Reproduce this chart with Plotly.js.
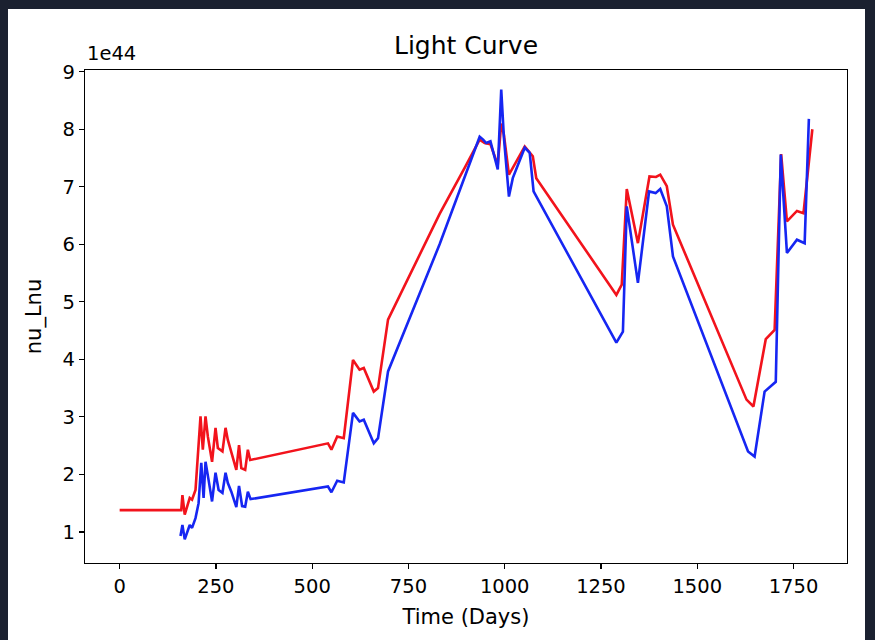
<!DOCTYPE html>
<html>
<head>
<meta charset="utf-8">
<script src="https://cdn.plot.ly/plotly-3.0.1.min.js"></script>
<style>
  html, body { margin: 0; padding: 0; background: #1b2130; width: 875px; height: 640px; overflow: hidden; }
  #chart { position: absolute; left: 8px; top: 9px; width: 857px; height: 631px; background: #ffffff; }
</style>
</head>
<body>
<div id="chart"></div>
<script>
// Time in days, luminance nu_Lnu in units of 1e44
const redDays = [0, 160, 163, 169, 182, 188, 197, 210, 216, 223, 229, 240, 249, 255, 267, 275, 281, 290, 303, 310, 316, 326, 333, 339,
  541, 550, 565, 582, 606, 623, 634, 660, 671, 697, 753, 831, 896, 935, 948, 963, 982, 991, 998, 1011, 1052, 1073, 1082,
  1290, 1304, 1317, 1346, 1376, 1393, 1404, 1421, 1437, 1628, 1646, 1678, 1701, 1718, 1733, 1759, 1776, 1799];
const redLum = [1.38, 1.38, 1.64, 1.30, 1.59, 1.56, 1.73, 3.01, 2.43, 3.01, 2.66, 2.22, 2.81, 2.46, 2.40, 2.81, 2.60, 2.40, 2.08, 2.51, 2.11, 2.08, 2.43, 2.25,
  2.54, 2.43, 2.66, 2.63, 3.99, 3.82, 3.85, 3.44, 3.50, 4.69, 5.47, 6.53, 7.33, 7.82, 7.76, 7.74, 7.38, 8.10, 7.90, 7.21, 7.70, 7.53, 7.15,
  5.12, 5.30, 6.96, 6.02, 7.18, 7.17, 7.21, 7.01, 6.34, 3.30, 3.18, 4.35, 4.51, 7.57, 6.40, 6.58, 6.54, 8.00];

const blueDays = [158, 163, 169, 182, 188, 197, 205, 212, 218, 223, 231, 240, 249, 257, 267, 275, 281, 290, 303, 310, 318, 326, 333, 340,
  541, 550, 565, 582, 606, 623, 634, 660, 671, 697, 831, 935, 944, 952, 963, 982, 991, 998, 1011, 1021, 1052, 1065, 1075,
  1290, 1307, 1317, 1346, 1375, 1392, 1404, 1421, 1437, 1632, 1649, 1675, 1704, 1717, 1733, 1759, 1779, 1790];
const blueLum = [0.93, 1.12, 0.87, 1.12, 1.07, 1.24, 1.50, 2.20, 1.59, 2.22, 1.90, 1.53, 2.03, 1.73, 1.68, 2.03, 1.85, 1.70, 1.43, 1.80, 1.45, 1.44, 1.70, 1.57,
  1.79, 1.69, 1.89, 1.86, 3.07, 2.92, 2.95, 2.54, 2.63, 3.79, 6.00, 7.87, 7.82, 7.76, 7.79, 7.30, 8.69, 7.85, 6.83, 7.15, 7.68, 7.59, 6.92,
  4.29, 4.48, 6.66, 5.33, 6.92, 6.89, 6.96, 6.66, 5.79, 2.40, 2.31, 3.44, 3.61, 7.56, 5.85, 6.08, 6.02, 8.18];

const xTicks = [0, 250, 500, 750, 1000, 1250, 1500, 1750];
const yTicks = [1, 2, 3, 4, 5, 6, 7, 8, 9];

const FONT = 'DejaVu Sans, sans-serif';

const traces = [
  { x: redDays, y: redLum, type: 'scatter', mode: 'lines', line: { color: '#f2131c', width: 2.6 }, hoverinfo: 'skip' },
  { x: blueDays, y: blueLum, type: 'scatter', mode: 'lines', line: { color: '#1626f2', width: 2.6 }, hoverinfo: 'skip' }
];

const axisCommon = {
  showgrid: false, zeroline: false, showline: true, mirror: true,
  linecolor: '#000', linewidth: 1.2, ticks: 'outside', ticklen: 5, tickwidth: 1.2, tickcolor: '#000',
  tickfont: { family: FONT, size: 19.5, color: '#000' }
};

const layout = {
  width: 857, height: 631,
  paper_bgcolor: '#ffffff', plot_bgcolor: '#ffffff',
  margin: { l: 77, r: 18, t: 61, b: 77 },
  showlegend: false,
  title: { text: 'Light Curve', font: { family: FONT, size: 25, color: '#000' }, x: 0.5, xref: 'paper', y: 0.943, yref: 'container', yanchor: 'middle' },
  xaxis: Object.assign({}, axisCommon, {
    range: [-90, 1889], tickvals: xTicks, ticktext: xTicks.map(String),
    title: { text: 'Time (Days)', font: { family: FONT, size: 21, color: '#000' }, standoff: 12 }
  }),
  yaxis: Object.assign({}, axisCommon, {
    range: [0.46, 9.03], tickvals: yTicks, ticktext: yTicks.map(String),
    title: { text: 'nu_Lnu', font: { family: FONT, size: 21, color: '#000' }, standoff: 15 }
  }),
  annotations: [{
    text: '1e44', xref: 'paper', yref: 'paper', x: 0, y: 1, xanchor: 'left', yanchor: 'bottom',
    yshift: 3, showarrow: false, font: { family: FONT, size: 19.5, color: '#000' }
  }]
};

Plotly.newPlot('chart', traces, layout, { staticPlot: true, displayModeBar: false });
</script>
</body>
</html>
